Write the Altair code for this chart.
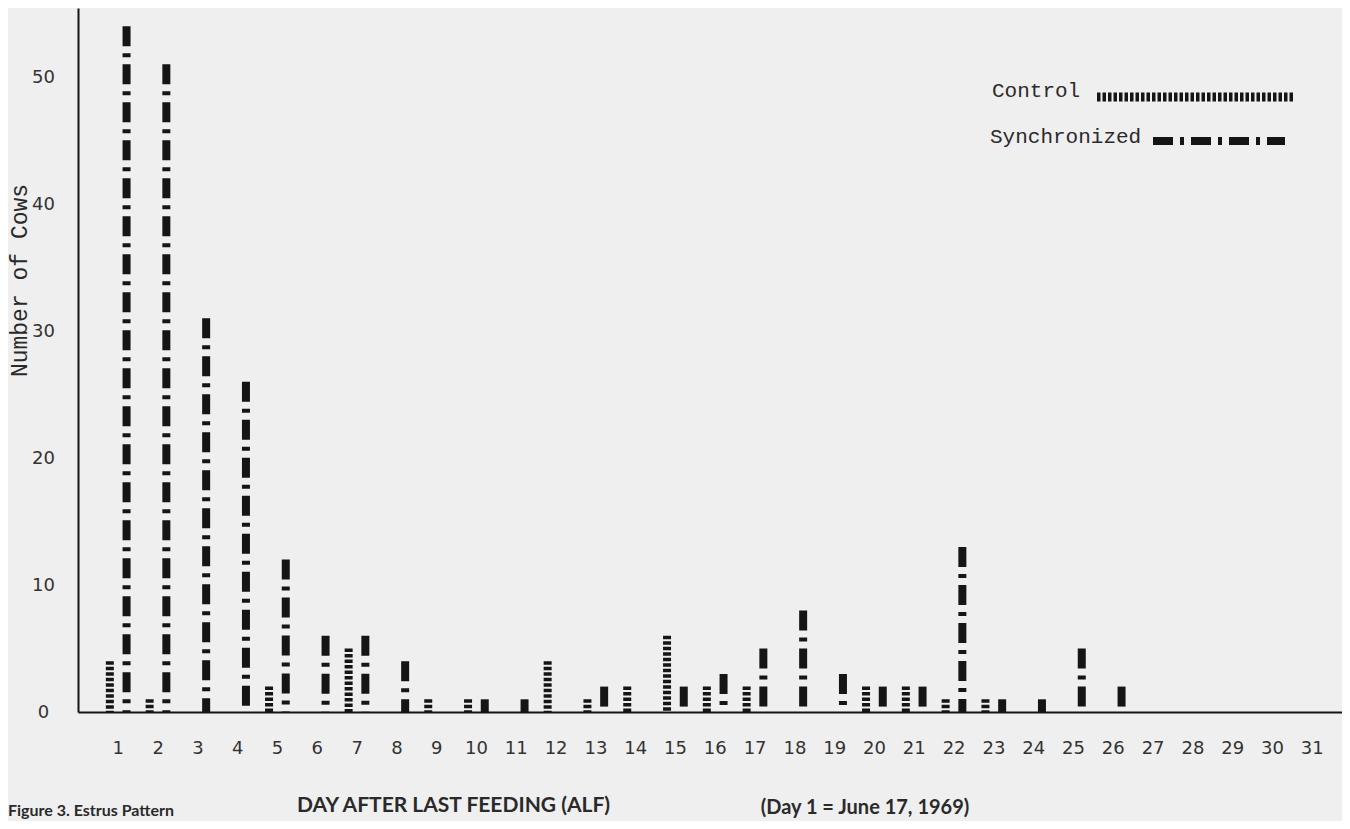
import altair as alt
import pandas as pd

# ---- data ----
days = list(range(1, 32))
control = [4, 1, 0, 0, 2, 0, 5, 0, 1, 1, 0, 4, 1, 2, 6, 2, 2, 0, 0, 2, 2, 1, 1, 0, 0, 0, 0, 0, 0, 0, 0]
synchronized = [54, 51, 31, 26, 12, 6, 6, 4, 0, 1, 1, 0, 2, 0, 2, 3, 5, 8, 3, 2, 2, 13, 1, 1, 5, 2, 0, 0, 0, 0, 0]
series_names = ["Control", "Synchronized"]
y_ticks = [0, 10, 20, 30, 40, 50]

rows = []
for d, c, s in zip(days, control, synchronized):
    rows.append({"day": d, "series": "Control", "count": c})
    rows.append({"day": d, "series": "Synchronized", "count": s})
df = pd.DataFrame(rows)

PLOT_W = 1264
PLOT_H = 704
DAY_PX = 39.8
x_max = PLOT_W / DAY_PX
y_max = PLOT_H / 12.7

INK = "#151515"
TXT = "#2a2a2a"

dash_scale = alt.Scale(domain=series_names, range=[[3.5, 2], [20, 7, 4, 7]])

bars = (
    alt.Chart(df)
    .transform_filter("datum.count > 0")
    .transform_calculate(xpos="datum.day + (datum.series == 'Control' ? -0.2 : 0.22)")
    .mark_rule(strokeWidth=8, strokeCap="butt", color=INK)
    .encode(
        x=alt.X(
            "xpos:Q",
            scale=alt.Scale(domain=[0, x_max], nice=False, zero=False),
            axis=alt.Axis(
                values=days,
                format="d",
                title="DAY AFTER LAST FEEDING (ALF)",
                titleFont="Lato",
                titleFontWeight="bold",
                titleFontSize=21,
                titleColor=TXT,
                titleX=375,
                titleY=93,
                titleBaseline="middle",
                labelFont="DejaVu Sans",
                labelFontSize=18,
                labelColor="#333333",
                labelBaseline="middle",
                labelPadding=36,
                labelFlush=False,
                ticks=False,
                tickSize=0,
                grid=False,
                domainColor=INK,
                domainWidth=2,
            ),
        ),
        y=alt.Y(
            "count:Q",
            scale=alt.Scale(domain=[0, y_max], nice=False),
            axis=alt.Axis(
                values=y_ticks,
                title="Number of Cows",
                titleFont="Liberation Mono",
                titleFontWeight="normal",
                titleFontSize=23,
                titleColor=TXT,
                titleAngle=270,
                titleX=-59,
                titleY=272,
                titleAlign="center",
                titleBaseline="middle",
                labelFont="DejaVu Sans",
                labelFontSize=18,
                labelColor="#333333",
                labelAlign="center",
                labelBaseline="middle",
                labelPadding=35,
                ticks=False,
                tickSize=0,
                grid=False,
                domainColor=INK,
                domainWidth=2,
            ),
        ),
        y2=alt.datum(0),
        strokeDash=alt.StrokeDash("series:N", scale=dash_scale, legend=None),
    )
)

legend_df = pd.DataFrame({"series": series_names})

leg_c_text = (
    alt.Chart(legend_df)
    .transform_filter("datum.series == 'Control'")
    .mark_text(align="left", baseline="middle", font="Liberation Mono", fontSize=21, color=TXT)
    .encode(text="series:N", x=alt.value(914), y=alt.value(83))
)
leg_s_text = (
    alt.Chart(legend_df)
    .transform_filter("datum.series == 'Synchronized'")
    .mark_text(align="left", baseline="middle", font="Liberation Mono", fontSize=21, color=TXT)
    .encode(text="series:N", x=alt.value(912), y=alt.value(129))
)
leg_c_rule = (
    alt.Chart(legend_df)
    .transform_filter("datum.series == 'Control'")
    .mark_rule(strokeWidth=9, strokeCap="butt", color=INK)
    .encode(
        x=alt.value(1019), x2=alt.value(1215), y=alt.value(89),
        strokeDash=alt.StrokeDash("series:N", scale=dash_scale, legend=None),
    )
)
leg_s_rule = (
    alt.Chart(legend_df)
    .transform_filter("datum.series == 'Synchronized'")
    .mark_rule(strokeWidth=8, strokeCap="butt", color=INK)
    .encode(
        x=alt.value(1075), x2=alt.value(1207), y=alt.value(133),
        strokeDash=alt.StrokeDash("series:N", scale=dash_scale, legend=None),
    )
)

note_df = pd.DataFrame({"note": ["(Day 1 = June 17, 1969)"]})
note = (
    alt.Chart(note_df)
    .mark_text(align="center", baseline="middle", font="Lato", fontWeight="bold", fontSize=20, color=TXT)
    .encode(text="note:N", x=alt.value(787), y=alt.value(800))
)

caption_df = pd.DataFrame({"cap": ["Figure 3. Estrus Pattern"]})
caption = (
    alt.Chart(caption_df)
    .mark_text(align="left", baseline="bottom", font="Lato", fontWeight="bold", fontSize=16, color=TXT)
    .encode(text="cap:N", x=alt.value(-70), y=alt.value(811))
)

chart = (
    alt.layer(bars, leg_c_text, leg_s_text, leg_c_rule, leg_s_rule, note, caption)
    .properties(
        width=PLOT_W,
        height=PLOT_H,
        background="#efefef",
        padding={"left": 70, "top": 0, "right": 0, "bottom": 109},
        autosize=alt.AutoSizeParams(type="none"),
    )
    .configure_view(stroke=None)
)

chart.save("out.html", embed_options={"renderer": "svg", "actions": False})
